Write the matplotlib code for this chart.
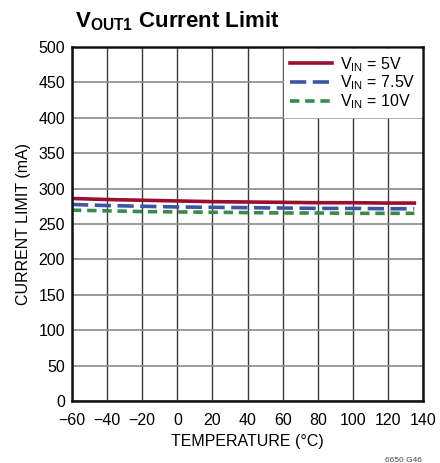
import matplotlib
matplotlib.use("Agg")
import matplotlib.pyplot as plt

plt.rcParams['font.family'] = ['Liberation Sans', 'DejaVu Sans']

temp = [-60, -40, -20, 0, 20, 40, 60, 80, 100, 120, 135]
vin_5 = [286, 284.5, 283.5, 282.5, 281.5, 281, 280.5, 280, 280, 279.5, 279.5]
vin_7_5 = [277.5, 276, 275, 274, 273.5, 273, 272.5, 272, 272, 271.5, 271.5]
vin_10 = [269.5, 268.5, 267.5, 267, 266.5, 266, 265.5, 265.5, 265, 265, 265]

fig = plt.figure(figsize=(4.4, 4.63), dpi=100)
ax = fig.add_axes([0.1636, 0.134, 0.798, 0.7646])

ax.plot(temp, vin_5, color='#9a0f2f', lw=2.6, label='V$_{\\mathregular{IN}}$ = 5V')
ax.plot(temp, vin_7_5, color='#3c56a6', lw=2.6, dashes=(4.5, 1.8), label='V$_{\\mathregular{IN}}$ = 7.5V')
ax.plot(temp, vin_10, color='#3a8a4a', lw=2.6, dashes=(2.6, 1.6), label='V$_{\\mathregular{IN}}$ = 10V')

ax.set_xlim(-60, 140)
ax.set_ylim(0, 500)
ax.set_xticks(range(-60, 141, 20))
ax.set_xticklabels(['\u221260', '\u221240', '\u221220', '0', '20', '40', '60', '80', '100', '120', '140'])
ax.set_yticks(range(0, 501, 50))
ax.xaxis.grid(True, color='#3a3a3a', lw=1.0)
ax.yaxis.grid(True, color='#8a8a8a', lw=1.2)
ax.set_axisbelow(True)
ax.tick_params(length=0, labelsize=11.5)
ax.tick_params(axis='x', pad=9)
ax.tick_params(axis='y', pad=5)
for s in ax.spines.values():
    s.set_linewidth(1.8)
    s.set_color('#111111')

ax.set_xlabel('TEMPERATURE (°C)', fontsize=11.5, labelpad=4)
ax.set_ylabel('CURRENT LIMIT (mA)', fontsize=11.5, labelpad=5)

leg = ax.legend(loc='upper right', fontsize=11.5, frameon=True, fancybox=False,
                handlelength=2.6, handletextpad=0.5, labelspacing=0.0,
                borderpad=0.35, borderaxespad=0.15)
leg.get_frame().set_edgecolor('white')
leg.get_frame().set_facecolor('white')
leg.get_frame().set_alpha(1)

fig.text(0.17, 0.94, 'V$_{\\mathregular{OUT1}}$ Current Limit', fontsize=16, fontweight='bold')
fig.text(0.875, 0.002, '6650 G46', fontsize=6, color='#444444')

fig.savefig('out.png', dpi=100)
